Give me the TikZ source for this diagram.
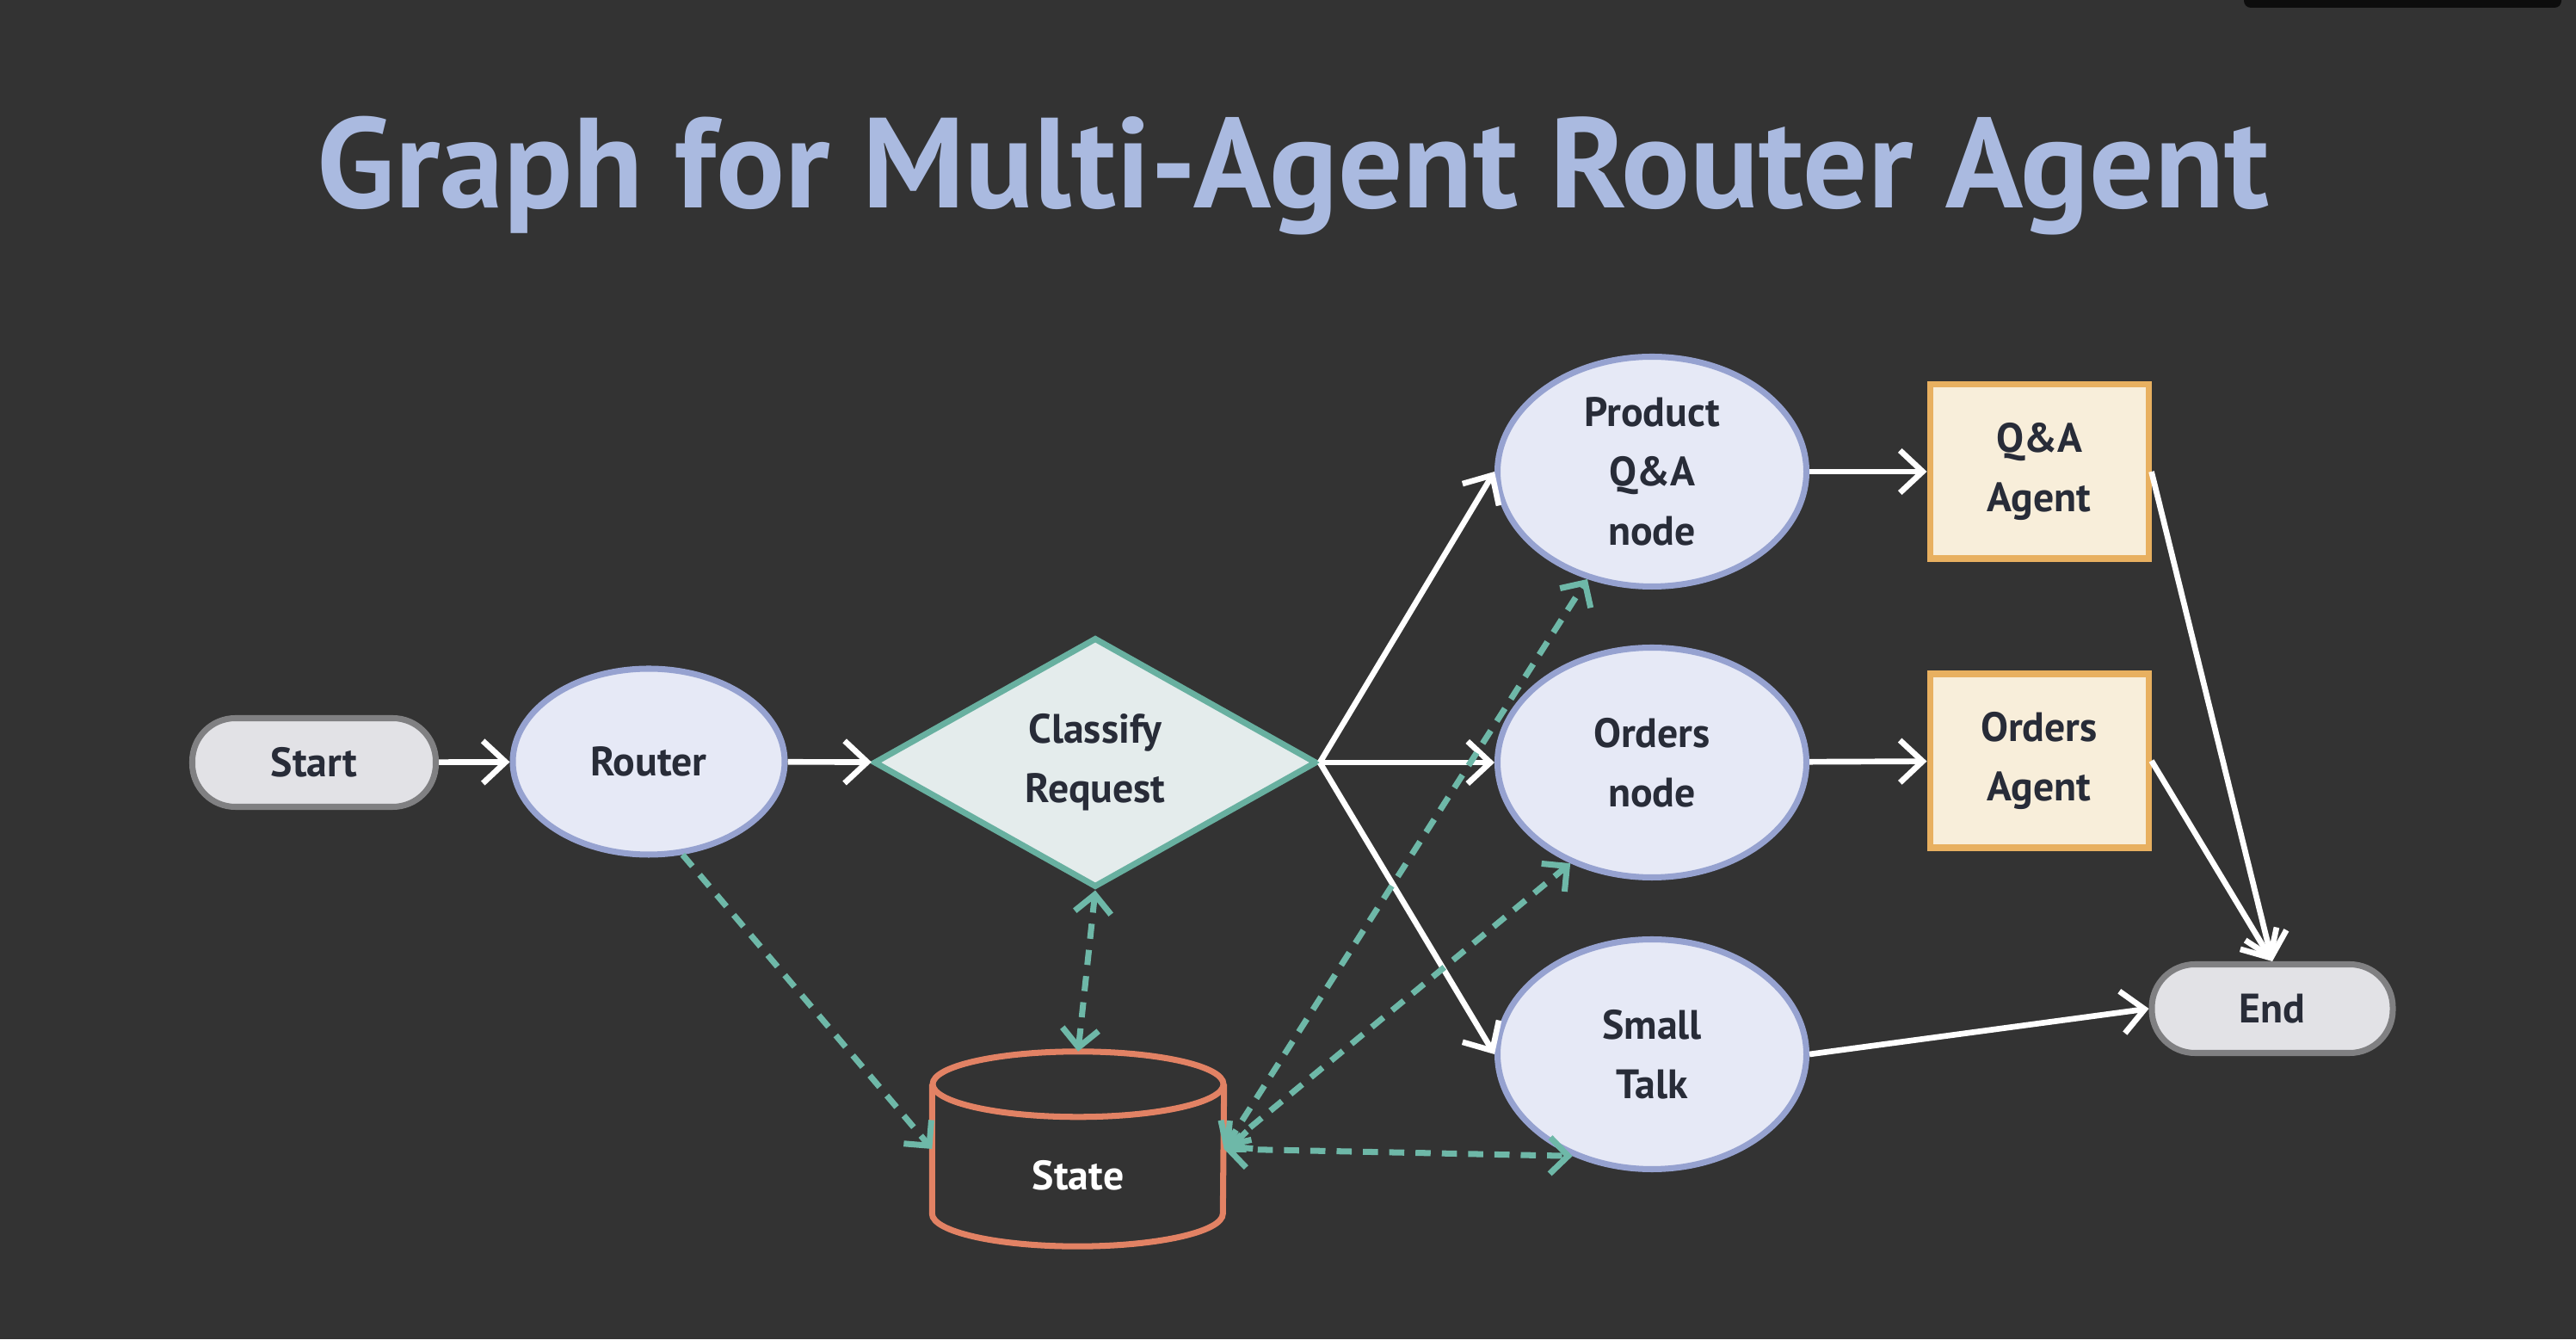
\documentclass[tikz,border=0pt]{standalone}
\usepackage{fontspec}
\setmainfont{PT Sans}
\usepackage{tikz}
\usetikzlibrary{arrows.meta}
\usetikzlibrary{shapes.geometric}

\definecolor{bgdark}{RGB}{51,51,51}
\definecolor{titleblue}{RGB}{170,186,224}
\definecolor{inktext}{RGB}{40,44,56}
\definecolor{termfill}{RGB}{226,226,230}
\definecolor{termline}{RGB}{128,128,130}
\definecolor{ovalfill}{RGB}{230,233,246}
\definecolor{ovalline}{RGB}{150,162,208}
\definecolor{decfill}{RGB}{228,236,236}
\definecolor{decline}{RGB}{104,176,160}
\definecolor{agentfill}{RGB}{248,238,218}
\definecolor{agentline}{RGB}{232,176,96}
\definecolor{stateline}{RGB}{226,130,100}
\definecolor{dashteal}{RGB}{110,184,168}

\begin{document}
\begin{tikzpicture}[
  every node/.style={font=\fontsize{13.6}{19.6}\selectfont\bfseries,text=inktext,align=center,inner sep=0pt},
  terminal/.style={draw=termline,fill=termfill,line width=2pt,rounded corners=0.5cm,minimum width=2.83cm,minimum height=1.03cm},
  oval/.style={ellipse,draw=ovalline,fill=ovalfill,line width=2pt,minimum width=3.59cm,minimum height=2.67cm},
  decision/.style={diamond,draw=decline,fill=decfill,line width=2pt,minimum width=5.15cm,minimum height=2.9cm},
  agent/.style={rectangle,draw=agentline,fill=agentfill,line width=2pt,minimum width=2.54cm,minimum height=2.02cm},
  store/.style={rectangle,minimum width=3.38cm,minimum height=2.25cm,text=white},
  flow/.style={draw=white,line width=1.9pt,-{Straight Barb[length=7.5pt,width=14pt]}},
  share/.style={draw=dashteal,line width=2pt,dash pattern=on 5pt off 3.7pt,{Straight Barb[length=6pt,width=12pt]}-{Straight Barb[length=6pt,width=12pt]}}
]
\useasboundingbox (0,0) rectangle (29.94,15.56);
\fill[bgdark] (0,0) rectangle (29.94,15.56);
\fill[black!95,rounded corners=0.08cm] (26.08,15.64) rectangle (29.77,15.47);

\node[anchor=base,text=titleblue,font=\fontsize{42.4}{50}\selectfont\bfseries] (title) at (15.03,13.14) {Graph for Multi-Agent Router Agent};

\node[terminal] (start) at (3.65,6.70) {Start};
\node[oval,minimum width=3.16cm,minimum height=2.16cm] (router) at (7.54,6.71) {Router};
\node[decision] (classify) at (12.73,6.70) {Classify\\Request};
\node[oval] (product) at (19.20,10.08) {Product\\Q\&A\\node};
\node[oval] (orders) at (19.20,6.70) {Orders\\node};
\node[oval] (small) at (19.20,3.31) {Small\\Talk};
\node[agent] (qaagent) at (23.70,10.08) {Q\&A\\Agent};
\node[agent] (ordagent) at (23.70,6.72) {Orders\\Agent};
\node[terminal,minimum width=2.80cm] (finish) at (26.41,3.84) {End};
\node[store] (state) at (12.53,2.21) {\smash{\raisebox{-0.48cm}{State}}};
\draw[stateline,line width=2pt] ([yshift=-0.38cm]state.north) ellipse (1.69 and 0.38);
\draw[stateline,line width=2pt] ([yshift=-0.38cm]state.north west) -- ([yshift=0.38cm]state.south west) arc (180:360:1.69 and 0.38) -- ([yshift=-0.38cm]state.north east);

\draw[flow] (start) -- (router);
\draw[flow] (router) -- (classify);
\foreach \n in {product,orders,small}{
\draw[flow] (classify.east) -- (\n.west);
}
\draw[flow] (product) -- (qaagent);
\draw[flow] (orders) -- (ordagent);
\draw[flow] (qaagent.east) -- (finish.north);
\draw[flow] (ordagent.east) -- (finish.north);
\draw[flow] (small.east) -- (finish.west);

\draw[share,-{Straight Barb[length=6pt,width=12pt]}] (router.-70) -- (state.west);
\draw[share] (classify.south) -- (state.north);
\draw[share] (state.east) -- (product.-121);
\draw[share] (state.east) -- (orders.-129);
\draw[share] (state.east) -- (small.-128);
\end{tikzpicture}
\end{document}
